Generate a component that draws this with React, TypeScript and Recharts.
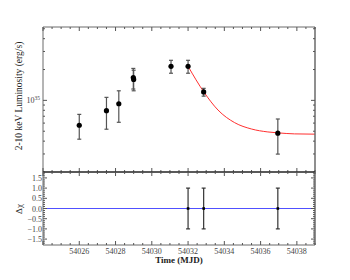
import React from 'react';
import { ComposedChart, Scatter, Line, XAxis, YAxis, ErrorBar, ReferenceLine } from 'recharts';

// light curve points: time (MJD), luminosity, error bar low / high
const times = [54026.0, 54027.5, 54028.18, 54028.98, 54029.0, 54031.06, 54032.0, 54032.86, 54036.95];
const lum = [5.72e34, 7.93e34, 9.27e34, 1.67e35, 1.6e35, 2.15e35, 2.15e35, 1.21e35, 4.78e34];
const lumLo = [4.18e34, 5.23e34, 6.11e34, 1.29e35, 1.24e35, 1.84e35, 1.84e35, 1.1e35, 2.99e34];
const lumHi = [7.3e34, 1.07e35, 1.24e35, 2.05e35, 1.97e35, 2.46e35, 2.46e35, 1.31e35, 6.58e34];

// decay model curve
const modelT = [54032.0, 54032.88, 54033.65, 54034.57, 54035.49, 54036.4, 54036.95, 54037.87, 54039.0];
const modelL = [2.15e35, 1.2e35, 8.05e34, 6.06e34, 5.26e34, 4.92e34, 4.82e34, 4.71e34, 4.68e34];

// residuals
const resT = [54032.0, 54032.86, 54036.95];
const resV = [0, 0, 0];
const resErr = [1, 1, 1];

const xMajor = [54024, 54026, 54028, 54030, 54032, 54034, 54036, 54038];
const xLabels = [54026, 54028, 54030, 54032, 54034, 54036, 54038];
const xMinor = [
  54024, 54024.5, 54025, 54025.5, 54026, 54026.5, 54027, 54027.5, 54028, 54028.5, 54029, 54029.5,
  54030, 54030.5, 54031, 54031.5, 54032, 54032.5, 54033, 54033.5, 54034, 54034.5, 54035, 54035.5,
  54036, 54036.5, 54037, 54037.5, 54038, 54038.5, 54039,
];
const lumTicks = [2e34, 3e34, 4e34, 5e34, 6e34, 7e34, 8e34, 9e34, 1e35, 2e35, 3e35, 4e35, 5e35];
const resMajor = [-1.5, -1.0, -0.5, 0, 0.5, 1.0, 1.5];
const resLabels = ['\u22121.5', '\u22121.0', '\u22120.5', '0.0', '0.5', '1.0', '1.5'];
const resMinor = [
  -1.7, -1.6, -1.5, -1.4, -1.3, -1.2, -1.1, -1.0, -0.9, -0.8, -0.7, -0.6, -0.5, -0.4, -0.3, -0.2, -0.1,
  0, 0.1, 0.2, 0.3, 0.4, 0.5, 0.6, 0.7, 0.8, 0.9, 1.0, 1.1, 1.2, 1.3, 1.4, 1.5, 1.6, 1.7,
];

const lcData = times.map((t, i) => ({ t, L: lum[i], err: [lum[i] - lumLo[i], lumHi[i] - lum[i]] }));
const modelData = modelT.map((t, i) => ({ t, L: modelL[i] }));
const resData = resT.map((t, i) => ({ t, r: resV[i], err: resErr[i] }));

const FONT = '"Liberation Serif", "DejaVu Serif", serif';
const FRAME = '#6a6a6a';
const TICK = '#555';
const W = 350;

const isMajorX = (v: number) => xMajor.some((m) => Math.abs(m - v) < 1e-6);
const isMajorR = (v: number) => resMajor.some((m) => Math.abs(m - v) < 1e-6);

// x ticks pointing into the panel; dir = -1 up, 1 down
const xTick = (dir: number, labels: boolean) => (p: any) => {
  const { x, y, payload } = p;
  const v = payload.value;
  const len = isMajorX(v) ? 4 : 2;
  const showLabel = labels && xLabels.some((m) => Math.abs(m - v) < 1e-6);
  return (
    <g>
      <line x1={x} x2={x} y1={y} y2={y + dir * len} stroke={TICK} strokeWidth={1} />
      {showLabel && (
        <text x={x} y={y + 9} textAnchor="middle" fontSize={8} fontFamily={FONT} fill="#444">
          {v}
        </text>
      )}
    </g>
  );
};

const logTick = (dir: number, labels: boolean) => (p: any) => {
  const { x, y, payload } = p;
  const major = payload.value === 1e35;
  const len = major ? 4 : 2;
  return (
    <g>
      <line x1={x} x2={x + dir * len} y1={y} y2={y} stroke={TICK} strokeWidth={1} />
      {labels && major && (
        <text x={x - 3} y={y + 3} textAnchor="end" fontSize={8} fontFamily={FONT} fill="#444">
          10<tspan dy={-3} fontSize={5.5}>35</tspan>
        </text>
      )}
    </g>
  );
};

const resTick = (dir: number, labels: boolean) => (p: any) => {
  const { x, y, payload } = p;
  const v = payload.value;
  const major = isMajorR(v);
  const len = major ? 4 : 2;
  const idx = resMajor.findIndex((m) => Math.abs(m - v) < 1e-6);
  return (
    <g>
      <line x1={x} x2={x + dir * len} y1={y} y2={y} stroke={TICK} strokeWidth={1} />
      {labels && major && (
        <text x={x - 1} y={y + 3} textAnchor="end" fontSize={8} fontFamily={FONT} fill="#444">
          {resLabels[idx]}
        </text>
      )}
    </g>
  );
};

const dot = (p: any) => <circle cx={p.cx} cy={p.cy} r={2.6} fill="#000" />;
const square = (p: any) => <rect x={p.cx - 1.3} y={p.cy - 1.3} width={2.6} height={2.6} fill="#000" />;

const axisCommon = { tickSize: 0, tickMargin: 0, tickLine: false, interval: 0 as const, allowDataOverflow: true };

export default function App() {
  return (
    <div style={{ position: 'absolute', left: 0, top: 0, width: W, height: 280, background: '#fff', fontFamily: FONT }}>
      <div style={{ position: 'absolute', left: 0, top: 0 }}>
        <ComposedChart width={W} height={180} margin={{ top: 26, right: 34, bottom: 7, left: 42 }}>
          <XAxis xAxisId="b" dataKey="t" type="number" domain={[54024, 54039]} ticks={xMinor} height={1}
            {...axisCommon} axisLine={{ stroke: '#222' }} tick={xTick(-1, false)} />
          <XAxis xAxisId="t" orientation="top" dataKey="t" type="number" domain={[54024, 54039]} ticks={xMinor}
            height={1} {...axisCommon} axisLine={{ stroke: FRAME }} tick={xTick(1, false)} />
          <YAxis yAxisId="l" dataKey="L" type="number" scale="log" domain={[2e34, 5.2e35]} ticks={lumTicks}
            width={1} {...axisCommon} axisLine={{ stroke: FRAME }} tick={logTick(1, true)} />
          <YAxis yAxisId="r" orientation="right" dataKey="L" type="number" scale="log" domain={[2e34, 5.2e35]}
            ticks={lumTicks} width={1} {...axisCommon} axisLine={{ stroke: FRAME, strokeWidth: 1.5 }}
            tick={logTick(-1, false)} />
          <Line xAxisId="b" yAxisId="l" data={modelData} dataKey="L" type="monotone" stroke="#ff3030"
            strokeWidth={1} dot={false} isAnimationActive={false} />
          <Scatter xAxisId="b" yAxisId="l" data={lcData} dataKey="L" shape={dot} isAnimationActive={false}>
            <ErrorBar dataKey="err" direction="y" width={2} stroke="#555" strokeWidth={1.2} isAnimationActive={false} />
          </Scatter>
        </ComposedChart>
      </div>
      <div style={{ position: 'absolute', left: 0, top: 171 }}>
        <ComposedChart width={W} height={109} margin={{ top: 0, right: 34, bottom: 34, left: 42 }}>
          <XAxis xAxisId="b" dataKey="t" type="number" domain={[54024, 54039]} ticks={xMinor} height={1}
            {...axisCommon} axisLine={{ stroke: FRAME }} tick={xTick(-1, true)} />
          <XAxis xAxisId="t" orientation="top" dataKey="t" type="number" domain={[54024, 54039]} ticks={xMinor}
            height={1} {...axisCommon} axisLine={{ stroke: '#222' }} tick={xTick(1, false)} />
          <YAxis yAxisId="l" dataKey="r" type="number" domain={[-1.79, 1.79]} ticks={resMinor} width={1}
            {...axisCommon} axisLine={{ stroke: FRAME }} tick={resTick(1, true)} />
          <YAxis yAxisId="r" orientation="right" dataKey="r" type="number" domain={[-1.79, 1.79]} ticks={resMinor}
            width={1} {...axisCommon} axisLine={{ stroke: FRAME, strokeWidth: 1.5 }} tick={resTick(-1, false)} />
          <ReferenceLine xAxisId="b" yAxisId="l" y={0} stroke="#5050ff" strokeWidth={1} />
          <Scatter xAxisId="b" yAxisId="l" data={resData} dataKey="r" shape={square} isAnimationActive={false}>
            <ErrorBar dataKey="err" direction="y" width={2} stroke="#333" strokeWidth={1.2} isAnimationActive={false} />
          </Scatter>
        </ComposedChart>
      </div>
      <div style={{ position: 'absolute', left: 179, top: 255, transform: 'translateX(-50%)', fontSize: 9,
        fontWeight: 'bold', whiteSpace: 'nowrap', color: '#222' }}>
        Time (MJD)
      </div>
      <div style={{ position: 'absolute', left: 19, top: 96, transform: 'translate(-50%, -50%) rotate(-90deg)',
        fontSize: 9.5, whiteSpace: 'nowrap', color: '#222' }}>
        2-10 keV Luminosity (erg/s)
      </div>
      <div style={{ position: 'absolute', left: 19, top: 209, transform: 'translate(-50%, -50%) rotate(-90deg)',
        fontSize: 9, whiteSpace: 'nowrap', color: '#222' }}>
        {'\u0394\u03c7'}
      </div>
    </div>
  );
}
